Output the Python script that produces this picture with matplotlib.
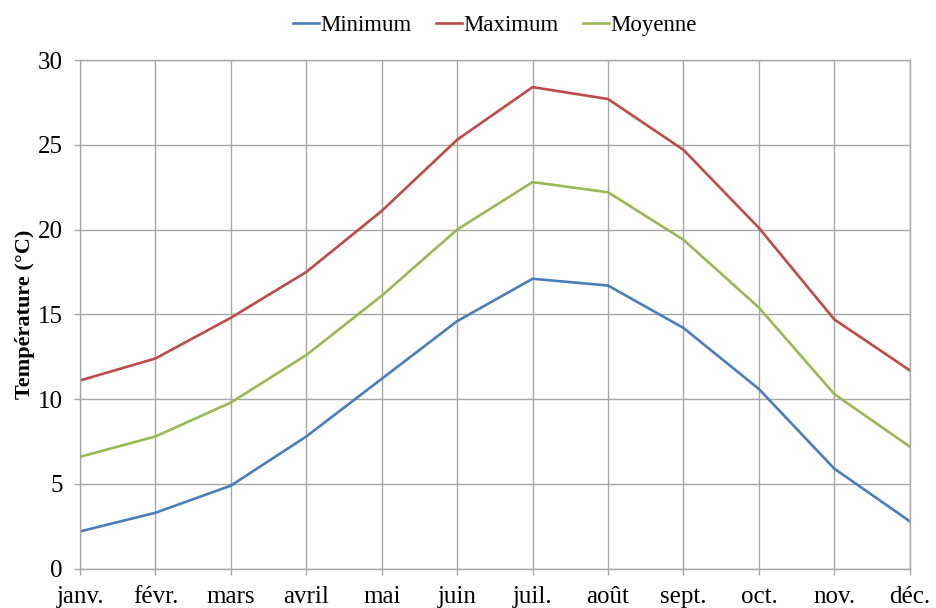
import matplotlib
matplotlib.use('Agg')
import matplotlib.pyplot as plt

plt.rcParams['font.family'] = ['Liberation Serif', 'DejaVu Serif']

# Monthly temperatures (°C)
months = ['janv.', 'févr.', 'mars', 'avril', 'mai', 'juin',
          'juil.', 'août', 'sept.', 'oct.', 'nov.', 'déc.']
t_min = [2.2, 3.3, 4.9, 7.8, 11.2, 14.6, 17.1, 16.7, 14.2, 10.6, 5.9, 2.8]
t_max = [11.1, 12.4, 14.8, 17.5, 21.1, 25.3, 28.4, 27.7, 24.7, 20.1, 14.7, 11.7]
t_moy = [6.6, 7.8, 9.8, 12.6, 16.1, 20.0, 22.8, 22.2, 19.4, 15.4, 10.3, 7.2]

fig = plt.figure(figsize=(9.37, 6.08), dpi=100)
ax = fig.add_axes([0.0854, 0.0646, 0.8855, 0.8367])

x = range(len(months))
ax.plot(x, t_min, color='#4a7ebb', lw=1.9, label='Minimum')
ax.plot(x, t_max, color='#be4b48', lw=1.9, label='Maximum')
ax.plot(x, t_moy, color='#98b954', lw=1.9, label='Moyenne')

ax.set_xlim(0, len(months) - 1)
ax.set_ylim(0, 30)
ax.set_yticks(range(0, 31, 5))
ax.set_xticks(list(x))
ax.set_xticklabels(months)

ax.grid(True, color='#a6a6a6', lw=1.0)
ax.set_axisbelow(True)
for s in ax.spines.values():
    s.set_color('#a6a6a6')
    s.set_linewidth(1.0)

ax.tick_params(axis='both', labelsize=18, color='#a6a6a6', length=4.5, width=1.0)
ax.tick_params(axis='x', pad=8)
ax.tick_params(axis='y', pad=8)

ax.set_ylabel('Température (°C)', fontsize=16, fontweight='bold', labelpad=2)

ax.legend(loc='lower center', bbox_to_anchor=(0.5, 1.0), ncol=3, frameon=False,
          fontsize=16.5, handlelength=1.15, handletextpad=0.05, columnspacing=1.05,
          borderaxespad=0.65)

fig.savefig('out.png', dpi=100)
